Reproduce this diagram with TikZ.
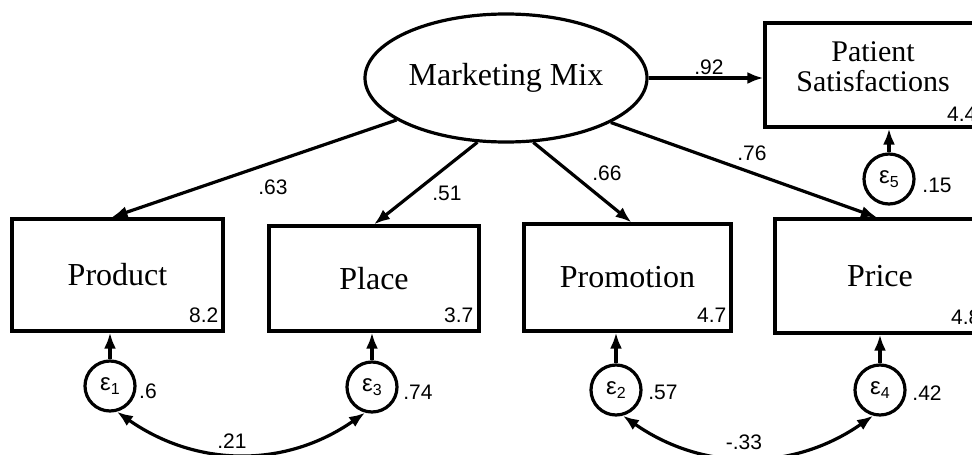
\documentclass[tikz,border=0pt]{standalone}
\usepackage{fontspec}
\setmainfont{Liberation Serif}
\setsansfont{Liberation Sans}
\usetikzlibrary{arrows.meta,shapes.geometric}
\begin{document}
\begin{tikzpicture}[x=1pt,y=1pt,
  every node/.style={inner sep=0pt},
  obs/.style={draw, line width=3.2pt, rectangle, font=\fontsize{32}{36}\selectfont},
  lat/.style={draw, ellipse, line width=3.2pt, minimum width=282pt, minimum height=128pt, font=\fontsize{32}{36}\selectfont},
  err/.style={draw, circle, line width=3.2pt, minimum size=50pt, font=\sffamily\fontsize{24}{24}\selectfont},
  num/.style={font=\sffamily\fontsize{21}{21}\selectfont},
  arr/.style={line width=3.2pt, -{Latex[length=16pt,width=12pt]}},
  cov/.style={line width=3.2pt, {Latex[length=16pt,width=12pt]}-{Latex[length=16pt,width=12pt]}},
]
\useasboundingbox (0,0) rectangle (972,-455);
\clip (0,0) rectangle (972,-455);

% latent variable
\node[lat] (mm) at (506,-78) {Marketing Mix};

% outcome
\node[obs, minimum width=216pt, minimum height=104pt] (pat) at (873,-75) {};
\node[align=center, font=\fontsize{30}{30}\selectfont] (patt) at (873,-67) {Patient\\Satisfactions};
\node[num, anchor=base east] (n5) at ([xshift=-6pt,yshift=7pt]pat.south east) {4.4};

% observed boxes
\node[obs, minimum width=211pt, minimum height=112pt] (prod) at (117.5,-275) {Product};
\node[obs, minimum width=210pt, minimum height=105pt] (place) at (374,-278.5) {Place};
\node[obs, minimum width=207pt, minimum height=107pt] (promo) at (627.5,-277.5) {Promotion};
\node[obs, minimum width=210pt, minimum height=114pt] (price) at (880,-276) {Price};

\node[num, anchor=base east] (n1) at ([xshift=-6pt,yshift=10pt]prod.south east) {8.2};
\node[num, anchor=base east] (n3) at ([xshift=-7pt,yshift=10pt]place.south east) {3.7};
\node[num, anchor=base east] (n2) at ([xshift=-6pt,yshift=10pt]promo.south east) {4.7};
\node[num, anchor=base east] (n4) at ([xshift=-6pt,yshift=10pt]price.south east) {4.8};

% error terms
\node[err] (e1) at (110,-386) {ε\raisebox{-4pt}{\fontsize{16}{16}\selectfont 1}};
\node[err] (e3) at (372,-387) {ε\raisebox{-4pt}{\fontsize{16}{16}\selectfont 3}};
\node[err] (e2) at (616,-390) {ε\raisebox{-4pt}{\fontsize{16}{16}\selectfont 2}};
\node[err] (e4) at (880,-390) {ε\raisebox{-4pt}{\fontsize{16}{16}\selectfont 4}};
\node[err] (e5) at (889,-179) {ε\raisebox{-4pt}{\fontsize{16}{16}\selectfont 5}};

\node[num] (v1) at (148,-391) {.6};
\node[num] (v3) at (418,-392) {.74};
\node[num] (v2) at (663,-392) {.57};
\node[num] (v4) at (927,-393) {.42};
\node[num] (v5) at (937,-185) {.15};

% paths
\draw[arr] (mm.201) -- ([xshift=-6pt]prod.north);
\draw[arr] (mm.246) -- (place.north);
\draw[arr] (mm.293) -- ([xshift=4pt]promo.north);
\draw[arr] (mm.337) -- ([xshift=-3pt]price.north);
\draw[arr] (mm.east) -- (pat.west |- mm.east);

\node[num] (l63) at (273,-187) {.63};
\node[num] (l51) at (447,-193) {.51};
\node[num] (l66) at (607,-173) {.66};
\node[num] (l76) at (752,-153) {.76};
\node[num] (l92) at (709,-67) {.92};

% error arrows
\draw[arr] (e1.north) -- (e1.north |- prod.south);
\draw[arr] (e3.north) -- (e3.north |- place.south);
\draw[arr] (e2.north) -- (e2.north |- promo.south);
\draw[arr] (e4.north) -- (e4.north |- price.south);
\draw[arr] (e5.north) -- (e5.north |- pat.south);

% covariances
\draw[cov] (e1.-75) to[out=-35,in=-145] (e3.-105);
\draw[cov] (e2.-75) to[out=-35,in=-145] (e4.-105);
\node[num] (c13) at (232,-441) {.21};
\node[num] (c24) at (744,-442) {-.33};
\end{tikzpicture}
\end{document}
